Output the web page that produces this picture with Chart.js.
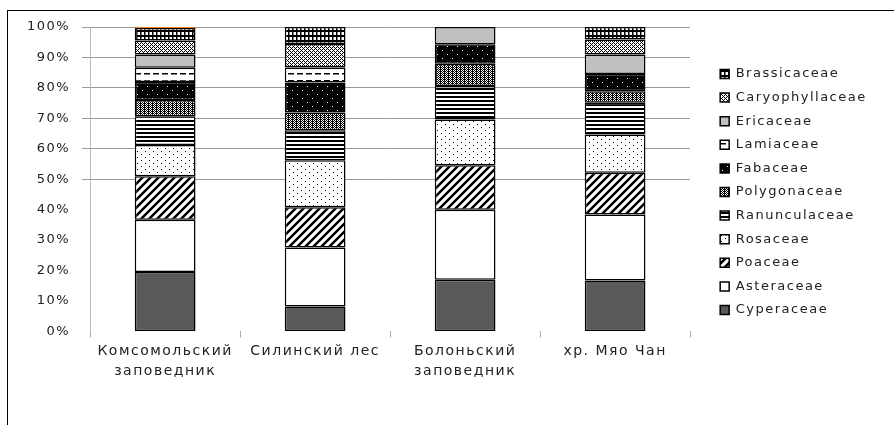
<!DOCTYPE html>
<html>
<head>
<meta charset="utf-8">
<script src="https://cdn.jsdelivr.net/npm/chart.js@4"></script>
<style>
    html, body { margin: 0; padding: 0; background: #fff; overflow: hidden; }
    #wrap { position: relative; width: 894px; height: 425px; }
    #frame { position: absolute; left: 7px; top: 10px; width: 900px; height: 430px; border: 1.5px solid #000; box-sizing: border-box; pointer-events: none; }
    canvas { position: absolute; left: 0; top: 0; }
</style>
</head>
<body>
<div id="wrap">
    <canvas id="familyChart" width="894" height="425"></canvas>
    <div id="frame"></div>
</div>
<script>
const siteLabels = [['Комсомольский', 'заповедник'], 'Силинский лес', ['Болоньский', 'заповедник'], 'хр. Мяо Чан'];

// bottom to top, percent of species
const cyperaceae      = [19.5, 8.2, 17.0, 16.7];
const asteraceae      = [17.2, 19.4, 23.0, 21.7];
const poaceae         = [14.3, 13.2, 14.6, 13.7];
const rosaceae        = [10.2, 15.4, 15.0, 12.6];
const ranunculaceae   = [9.5, 9.9, 11.0, 10.4];
const polygonaceae    = [5.3, 5.8, 7.3, 3.8];
const fabaceae        = [5.9, 9.9, 6.4, 5.7];
const lamiaceae       = [4.7, 4.9, 0, 0];
const ericaceae       = [4.4, 0, 5.7, 6.4];
const caryophyllaceae = [4.6, 7.7, 0, 4.9];
const brassicaceae    = [4.1, 5.6, 0, 4.1];
const otherFamilies   = [0.3, 0, 0, 0];

const yTicks = [0, 10, 20, 30, 40, 50, 60, 70, 80, 90, 100];

const canvas = document.getElementById('familyChart');
const ctx = canvas.getContext('2d');

function makePattern(w, h, bg, draw) {
    const c = document.createElement('canvas');
    c.width = w;
    c.height = h;
    const g = c.getContext('2d');
    g.fillStyle = bg;
    g.fillRect(0, 0, w, h);
    g.fillStyle = '#000';
    g.strokeStyle = '#000';
    draw(g);
    return ctx.createPattern(c, 'repeat');
}

const fills = {
    brassicaceae: makePattern(4, 5, '#fff', g => { g.fillRect(0, 0, 4, 2); g.fillRect(0, 0, 1.5, 5); }),
    caryophyllaceae: makePattern(4, 4, '#fff', g => {
        [[0, 3], [1, 2], [2, 1], [3, 0], [0, 1], [2, 3]].forEach(p => g.fillRect(p[0], p[1], 1, 1));
    }),
    ericaceae: '#c0c0c0',
    lamiaceae: makePattern(9, 7, '#fff', g => { g.fillRect(0, 3, 6, 1.5); }),
    fabaceae: makePattern(10, 8, '#000', g => { g.fillStyle = '#fff'; g.fillRect(2, 2, 1, 1); g.fillRect(7, 6, 1, 1); }),
    polygonaceae: makePattern(4, 4, '#fff', g => {
        [[0, 0], [2, 0], [1, 1], [3, 1], [0, 2], [2, 2], [1, 3], [3, 3]].forEach(p => g.fillRect(p[0], p[1], 1, 1));
        g.fillRect(0, 0, 1, 4);
    }),
    ranunculaceae: makePattern(4, 4, '#fff', g => { g.fillRect(0, 0, 4, 2); }),
    rosaceae: makePattern(8, 6, '#fff', g => { g.fillRect(1, 1, 1, 1); g.fillRect(5, 4, 1, 1); }),
    poaceae: makePattern(8, 8, '#fff', g => {
        g.lineWidth = 2.5;
        g.beginPath();
        g.moveTo(-2, 10); g.lineTo(10, -2);
        g.moveTo(-6, 6); g.lineTo(6, -6);
        g.moveTo(2, 14); g.lineTo(14, 2);
        g.stroke();
    }),
    asteraceae: '#fff',
    cyperaceae: '#595959',
    other: '#f07f1f'
};

function series(label, data, fill) {
    return {
        label: label,
        data: data,
        backgroundColor: fill,
        borderColor: '#000',
        borderWidth: 1.5,
        borderSkipped: false,
        barPercentage: 0.45,
        categoryPercentage: 0.9
    };
}

const datasets = [
    series('Cyperaceae', cyperaceae, fills.cyperaceae),
    series('Asteraceae', asteraceae, fills.asteraceae),
    series('Poaceae', poaceae, fills.poaceae),
    series('Rosaceae', rosaceae, fills.rosaceae),
    series('Ranunculaceae', ranunculaceae, fills.ranunculaceae),
    series('Polygonaceae', polygonaceae, fills.polygonaceae),
    series('Fabaceae', fabaceae, fills.fabaceae),
    series('Lamiaceae', lamiaceae, fills.lamiaceae),
    series('Ericaceae', ericaceae, fills.ericaceae),
    series('Caryophyllaceae', caryophyllaceae, fills.caryophyllaceae),
    series('Brassicaceae', brassicaceae, fills.brassicaceae),
    series('other', otherFamilies, fills.other)
];
datasets[datasets.length - 1].borderWidth = 0;

const fontFamily = '"DejaVu Sans", sans-serif';

// the old office text is drawn wide, so space the letters a little.
// measureText ignores this, so the legend box is widened after layout
// to stop its clip from cutting the longest name
const wideText = {
    id: 'wideText',
    beforeLayout: chart => { chart.ctx.letterSpacing = '1.5px'; },
    afterLayout: chart => {
        chart.legend.right += 30;
        chart.legend.width += 30;
    },
    beforeDraw: chart => { chart.ctx.letterSpacing = '1.5px'; }
};

window.familyChart = new Chart(ctx, {
    type: 'bar',
    data: { labels: siteLabels, datasets: datasets },
    plugins: [wideText],
    options: {
        responsive: false,
        animation: false,
        layout: { padding: { left: 15, top: 27, right: 45.5, bottom: 39 } },
        plugins: {
            tooltip: { enabled: false },
            legend: {
                position: 'right',
                fullSize: false,
                reverse: true,
                title: { display: true, text: ' ', font: { size: 13 }, padding: 5 },
                labels: {
                    boxWidth: 9,
                    boxHeight: 9,
                    padding: 10.6,
                    color: '#222',
                    font: { family: fontFamily, size: 13 },
                    filter: item => item.text !== 'other'
                }
            }
        },
        scales: {
            x: {
                stacked: true,
                border: { display: false },
                grid: { offset: true, drawOnChartArea: false, tickLength: 6, color: '#aaa' },
                ticks: { color: '#222', padding: 4, font: { family: fontFamily, size: 14, lineHeight: 1.45 } }
            },
            y: {
                stacked: true,
                min: 0,
                max: 100,
                afterBuildTicks: axis => { axis.ticks = yTicks.map(v => ({ value: v })); },
                border: { display: true, color: '#bbb', width: 1 },
                grid: {
                    tickLength: 8,
                    color: c => (c.tick && c.tick.value >= 50 ? '#999' : 'rgba(0,0,0,0)')
                },
                ticks: {
                    color: '#222',
                    padding: 12,
                    font: { family: fontFamily, size: 13 },
                    callback: v => v + '%'
                }
            },
            // empty strip between the plot and the legend
            gap: {
                type: 'linear',
                position: 'right',
                display: true,
                grid: { display: false },
                border: { display: false },
                ticks: { display: false },
                afterFit: scale => { scale.width = 19.5; }
            }
        }
    }
});
</script>
</body>
</html>
